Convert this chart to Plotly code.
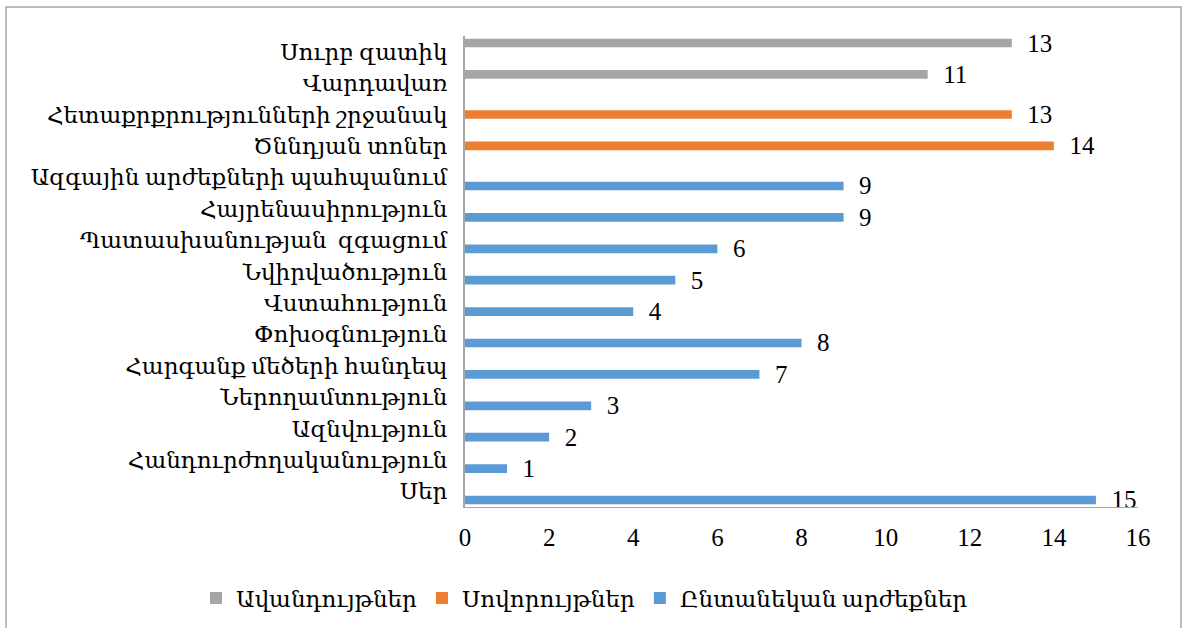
import plotly.graph_objects as go

# Categories from bottom to top
categories = [
    "Սեր",
    "Հանդուրժողականություն",
    "Ազնվություն",
    "Ներողամտություն",
    "Հարգանք մեծերի հանդեպ",
    "Փոխօգնություն",
    "Վստահություն",
    "Նվիրվածություն",
    "Պատասխանության  զգացում",
    "Հայրենասիրություն",
    "Ազգային արժեքների պահպանում",
    "Ծննդյան տոներ",
    "Հետաքրքրությունների շրջանակ",
    "Վարդավառ",
    "Սուրբ զատիկ",
]
family_values = [15, 1, 2, 3, 7, 8, 4, 5, 6, 9, 9, None, None, None, None]
customs_values = [None] * 11 + [14, 13, None, None]
traditions_values = [None] * 13 + [11, 13]

series_names = ["Ընտանեկան արժեքներ", "Սովորույթներ", "Ավանդույթներ"]
series_values = [family_values, customs_values, traditions_values]
series_colors = ["#5B9BD5", "#ED7D31", "#A5A5A5"]

x_ticks = [0, 2, 4, 6, 8, 10, 12, 14, 16]

FONT = "Liberation Serif, DejaVu Serif, serif"
W, H = 1184, 628
ML, MR, MT, MB = 465, 46, 36, 121

fig = go.Figure()
for name, vals, col in zip(series_names, series_values, series_colors):
    fig.add_trace(go.Bar(
        y=categories, x=vals, name=name, orientation="h",
        marker=dict(color=col, line=dict(width=0)),
        texttemplate="\u00a0\u00a0%{x}", textposition="outside",
        constraintext="none", cliponaxis=False,
        textfont=dict(family=FONT, size=25, color="#000000"),
    ))

pw = W - ML - MR
ph = H - MT - MB
def px_x(p):
    return (p - ML) / pw
def px_y(p):
    return (H - MB - p) / ph

fig.add_shape(type="rect", xref="paper", yref="paper",
              x0=px_x(6), x1=px_x(1181), y0=px_y(640), y1=px_y(7),
              line=dict(color="#A6A6A6", width=1.5), fillcolor="rgba(0,0,0,0)", layer="below")

fig.update_layout(
    width=W, height=H,
    margin=dict(l=ML, r=MR, t=MT, b=MB, autoexpand=False),
    barmode="group", bargap=0.17, bargroupgap=0,
    plot_bgcolor="white", paper_bgcolor="white",
    font=dict(family=FONT, size=24, color="#000000"),
    showlegend=True,
    legend=dict(orientation="h", traceorder="reversed",
                x=px_x(196), xanchor="left",
                y=px_y(598), yanchor="middle",
                bgcolor="rgba(0,0,0,0)",
                font=dict(family=FONT, size=23, color="#000000")),
)
fig.update_xaxes(range=[0, 16], tickvals=x_ticks, showgrid=False, zeroline=False,
                 showline=True, linecolor="#A6A6A6", linewidth=1,
                 ticks="", ticklabelstandoff=8,
                 tickfont=dict(family=FONT, size=25, color="#000000"))
fig.update_yaxes(categoryorder="array", categoryarray=categories,
                 showgrid=False, zeroline=False,
                 showline=True, linecolor="#A6A6A6", linewidth=2,
                 ticks="", ticklabelstandoff=11,
                 tickfont=dict(family=FONT, size=23, color="#000000"))

fig.write_html("out.html", config={"displayModeBar": False},
               post_script="document.body.style.margin='0';")
